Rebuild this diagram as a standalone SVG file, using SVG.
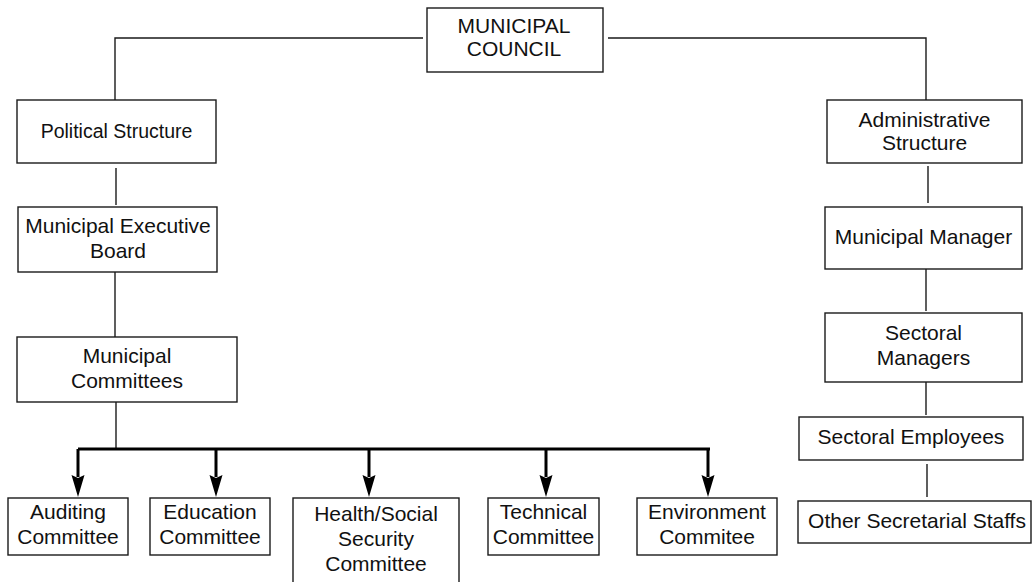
<svg xmlns="http://www.w3.org/2000/svg" width="1032" height="582" viewBox="0 0 1032 582">
<defs>
<style>
.box{fill:#fff;stroke:#1a1a1a;stroke-width:1.4}
.t{font-family:"Liberation Sans",Arial,sans-serif;font-size:21px;fill:#111;text-anchor:middle}
.ln{fill:none;stroke:#1a1a1a;stroke-width:1.4}
.bus{fill:none;stroke:#000;stroke-width:3}
</style>
<marker id="ah" viewBox="0 -7 22 14" refX="2" refY="0" markerWidth="22" markerHeight="14" markerUnits="userSpaceOnUse" orient="auto">
<path d="M0,-6.5 L22,0 L0,6.5 L3,0 Z" fill="#000"/>
</marker>
</defs>
<rect width="1032" height="582" fill="#fff"/>
<g id="connectors">
<polyline class="ln" points="423,38 115,38 115,100"/>
<polyline class="ln" points="608,38 926,38 926,100"/>
<line class="ln" x1="116" y1="168" x2="116" y2="205"/>
<line class="ln" x1="115" y1="272" x2="115" y2="337"/>
<line class="ln" x1="116" y1="402" x2="116" y2="448"/>
<line class="bus" x1="78" y1="449" x2="710" y2="449"/>
<line class="bus" x1="78" y1="449" x2="78" y2="477" marker-end="url(#ah)"/>
<line class="bus" x1="216" y1="449" x2="216" y2="477" marker-end="url(#ah)"/>
<line class="bus" x1="369" y1="449" x2="369" y2="477" marker-end="url(#ah)"/>
<line class="bus" x1="546" y1="449" x2="546" y2="477" marker-end="url(#ah)"/>
<line class="bus" x1="708" y1="449" x2="708" y2="477" marker-end="url(#ah)"/>
<line class="ln" x1="928" y1="166" x2="928" y2="203"/>
<line class="ln" x1="926" y1="269" x2="926" y2="311"/>
<line class="ln" x1="926" y1="382" x2="926" y2="415"/>
<line class="ln" x1="927" y1="464" x2="927" y2="497"/>
</g>
<g id="municipal-council">
<rect class="box" x="427" y="8" width="176" height="64"/>
<text class="t" x="514" y="33">MUNICIPAL</text>
<text class="t" x="514" y="56">COUNCIL</text>
</g>
<g id="political-structure">
<rect class="box" x="17" y="100" width="199" height="63"/>
<text class="t" x="116.5" y="138" style="font-size:19.5px">Political Structure</text>
</g>
<g id="municipal-executive-board">
<rect class="box" x="18" y="207" width="199" height="65"/>
<text class="t" x="118" y="233">Municipal Executive</text>
<text class="t" x="118" y="258">Board</text>
</g>
<g id="municipal-committees">
<rect class="box" x="17" y="337" width="220" height="65"/>
<text class="t" x="127" y="363">Municipal</text>
<text class="t" x="127" y="388">Committees</text>
</g>
<g id="auditing-committee">
<rect class="box" x="8" y="498" width="120" height="57"/>
<text class="t" x="68" y="519">Auditing</text>
<text class="t" x="68" y="544">Committee</text>
</g>
<g id="education-committee">
<rect class="box" x="150" y="498" width="120" height="57"/>
<text class="t" x="210" y="519">Education</text>
<text class="t" x="210" y="544">Committee</text>
</g>
<g id="health-social-security-committee">
<rect class="box" x="293" y="498" width="166" height="110"/>
<text class="t" x="376" y="521">Health/Social</text>
<text class="t" x="376" y="546">Security</text>
<text class="t" x="376" y="571">Committee</text>
</g>
<g id="technical-committee">
<rect class="box" x="488" y="498" width="111" height="57"/>
<text class="t" x="543.5" y="519">Technical</text>
<text class="t" x="543.5" y="544">Committee</text>
</g>
<g id="environment-commitee">
<rect class="box" x="637" y="498" width="140" height="57"/>
<text class="t" x="707" y="519">Environment</text>
<text class="t" x="707" y="544">Commitee</text>
</g>
<g id="administrative-structure">
<rect class="box" x="827" y="100" width="195" height="63"/>
<text class="t" x="924.5" y="127">Administrative</text>
<text class="t" x="924.5" y="150">Structure</text>
</g>
<g id="municipal-manager">
<rect class="box" x="825" y="207" width="197" height="62"/>
<text class="t" x="923.5" y="244">Municipal Manager</text>
</g>
<g id="sectoral-managers">
<rect class="box" x="825" y="313" width="197" height="69"/>
<text class="t" x="923.5" y="340">Sectoral</text>
<text class="t" x="923.5" y="365">Managers</text>
</g>
<g id="sectoral-employees">
<rect class="box" x="799" y="417" width="224" height="43"/>
<text class="t" x="911" y="444">Sectoral Employees</text>
</g>
<g id="other-secretarial-staffs">
<rect class="box" x="798" y="501" width="233" height="42"/>
<text class="t" x="917" y="528">Other Secretarial Staffs</text>
</g>
</svg>
